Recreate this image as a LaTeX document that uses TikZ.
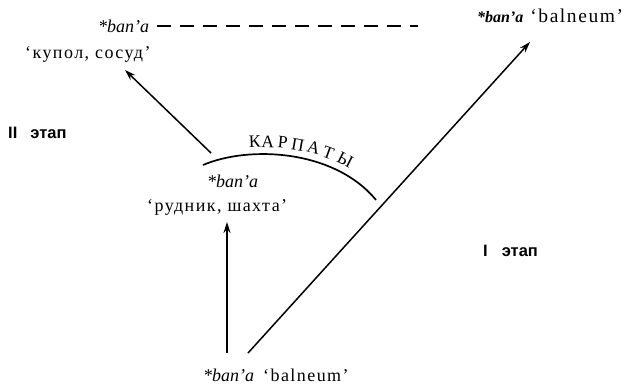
\documentclass[tikz,border=0pt]{standalone}
\usepackage{fontspec}
\setmainfont{Liberation Serif}
\newfontfamily\spaced[LetterSpace=8]{Liberation Serif}
\newfontfamily\grot{Liberation Sans}
\usetikzlibrary{arrows.meta}
\begin{document}
\begin{tikzpicture}[x=1pt,y=-1pt,
  lbl/.style={inner sep=0pt, anchor=base west, font=\spaced\fontsize{18}{20}\selectfont},
  latin/.style={inner sep=0pt, anchor=base west, font=\fontsize{18}{20}\selectfont},
  stage/.style={inner sep=0pt, anchor=base west, font=\grot\bfseries\fontsize{16.5}{18}\selectfont},
  arr/.style={line width=1.5pt, -{Stealth[length=11pt,width=7pt]}},
  dash line/.style={line width=1.5pt, dash pattern=on 14pt off 9pt},
  ridge/.style={line width=1.7pt},
  ridgelbl/.style={inner sep=0pt, sloped, anchor=south, yshift=6pt, font=\fontsize{17.5}{20}\selectfont}
]
\useasboundingbox (0,0) rectangle (631,386);

% labels
\node[latin] (bm) at (98,32) {\itshape *ban’a};
\node[lbl] (kupol) at (25,58) {‘купол, сосуд’};
\node[latin] (tr) at (477,22) {\fontsize{16}{18}\selectfont\bfseries\itshape *ban’a\hspace{7pt}\mdseries\upshape\spaced\fontsize{19.5}{20}\selectfont‘balneum’};
\node[latin] (mid) at (207,187) {\itshape *ban’a};
\node[lbl] (rud) at (147,211) {‘рудник, шахта’};
\node[latin] (bot) at (203,381) {\itshape *ban’a\upshape\ \ \spaced‘balneum’};
\node[stage] (e2) at (8,138) {II\hspace{13pt}этап};
\node[stage] (e1) at (483,256) {I\hspace{14pt}этап};

% coordinates of connector ends
\coordinate (dS) at (157,26);
\coordinate (dE) at (418,26);
\coordinate (a1s) at (211,153);
\coordinate (a1e) at (125,70);
\coordinate (a2s) at (227,353);
\coordinate (a2e) at (227,222);
\coordinate (a3s) at (248,353);
\coordinate (a3e) at (530,42);
\coordinate (rS) at (203,165);
\coordinate (rE) at (376,200);

\draw[dash line] (dS) -- (dE);
\draw[arr] (a1s) -- (a1e);
\draw[arr] (a2s) -- (a2e);
\draw[arr] (a3s) -- (a3e);

\draw[ridge] (rS) .. controls (250,145) and (335,150) .. (rE)
  node[ridgelbl, pos=0.31] (k1) {К}
  node[ridgelbl, pos=0.375] (k2) {А}
  node[ridgelbl, pos=0.447] (k3) {Р}
  node[ridgelbl, pos=0.52] (k4) {П}
  node[ridgelbl, pos=0.598] (k5) {А}
  node[ridgelbl, pos=0.67] (k6) {Т}
  node[ridgelbl, pos=0.758] (k7) {Ы};
\end{tikzpicture}
\end{document}
